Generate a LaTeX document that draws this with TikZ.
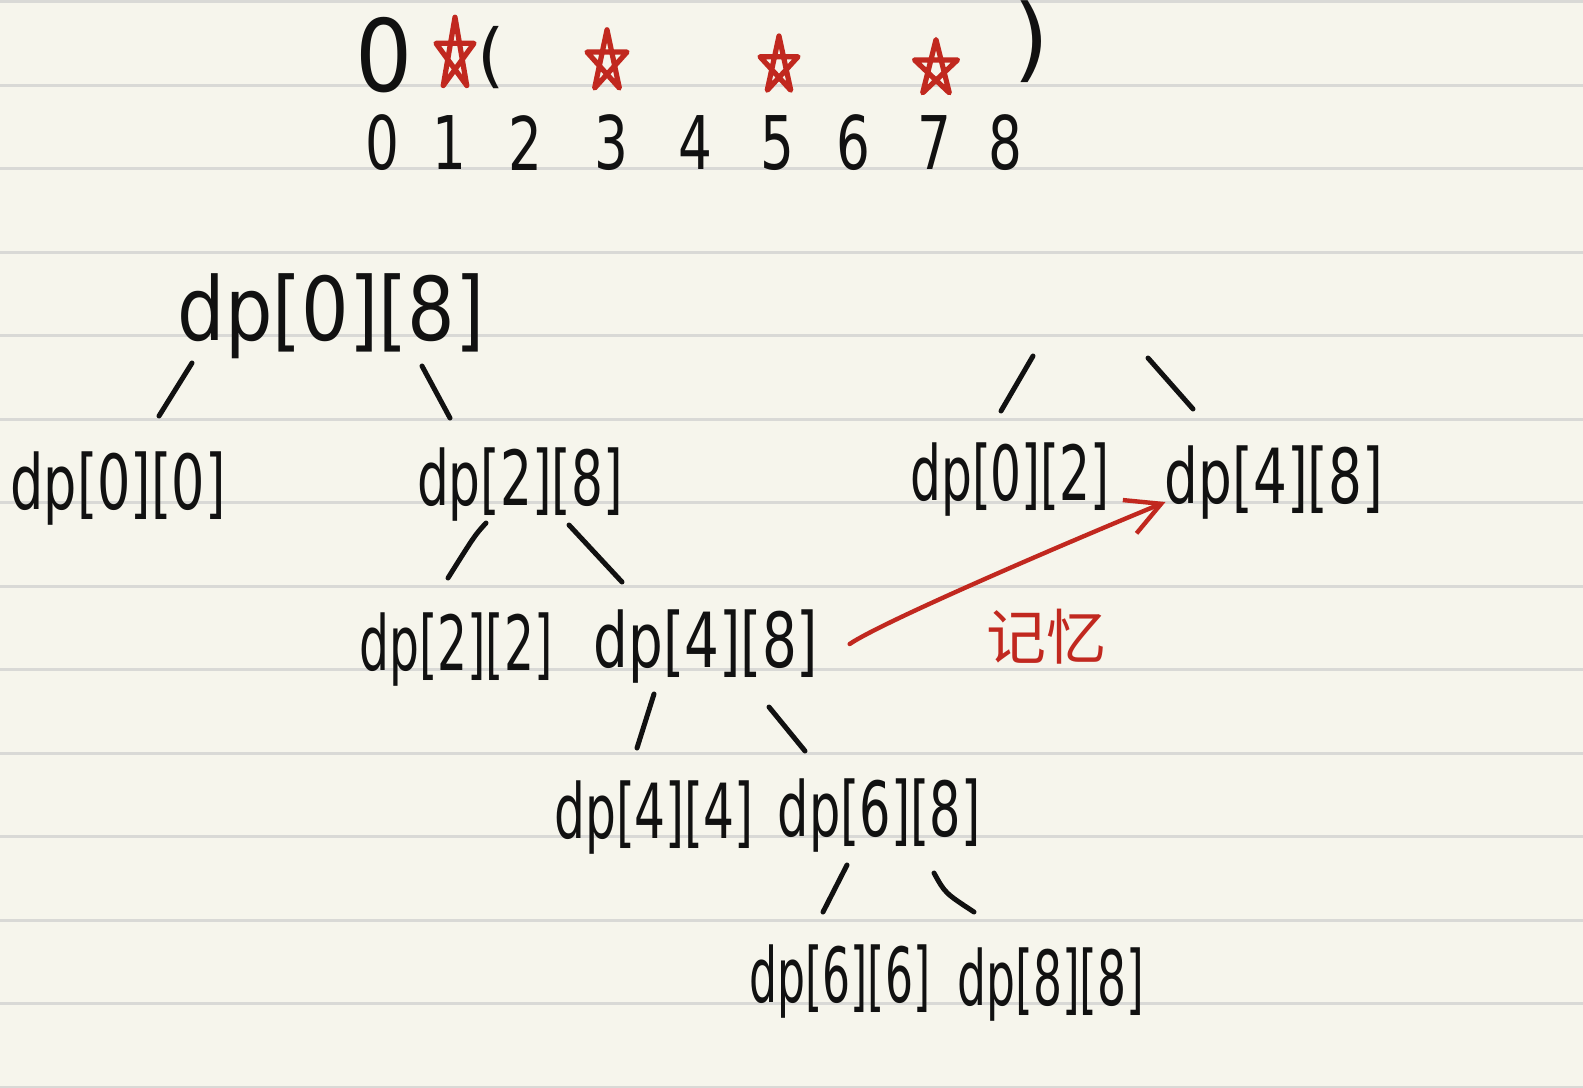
\documentclass[tikz,border=0pt]{standalone}
\usepackage{fontspec}
\setmainfont{DejaVu Sans}
\newfontfamily\cjk{Noto Sans CJK SC}
\usetikzlibrary{arrows.meta}
\definecolor{paper}{HTML}{F6F5EC}
\definecolor{ruleline}{HTML}{D9D9D6}
\definecolor{ink}{HTML}{111111}
\definecolor{redink}{HTML}{C1281F}
\newcommand\hwtext[2][0.68]{\scalebox{#1}[1]{#2}}
\newcommand\hwdigit[1]{\scalebox{0.72}[1]{#1}}
\newcommand\pentastar[4]{%
  \draw[starink, shift={(#1,#2)}, xscale=#3/1.9, yscale=#4/1.8]
    (0,-1) -- (-0.588,0.809) -- (0.951,-0.309) -- (-0.951,-0.309) -- (0.588,0.809) -- cycle;}
\begin{document}
\begin{tikzpicture}[x=0.5pt,y=-0.5pt,
  lbl/.style={inner sep=0pt, text=ink, font=\fontsize{38}{44}\selectfont},
  idx/.style={inner sep=0pt, text=ink, font=\fontsize{37}{42}\selectfont},
  edge/.style={draw=ink, line width=2.5pt, line cap=round},
  starink/.style={draw=redink, line width=2.6pt, line join=round, line cap=round},
  memo/.style={draw=redink, line width=2.2pt, line cap=round,
    -{Straight Barb[length=17pt,width=18pt,line width=2.2pt]}},
  memotext/.style={inner sep=0pt, text=redink, font=\cjk\fontsize{30}{36}\selectfont}
]
\useasboundingbox (0,0) rectangle (1583,1087);
\fill[paper] (0,0) rectangle (1583,1087);
\foreach \k in {0,...,13} {
  \draw[ruleline, line width=1.5pt] (0,1.7+83.5*\k) -- (1583,1.7+83.5*\k);
}

% top string
\node[inner sep=0pt, text=ink, font=\fontsize{50}{56}\selectfont] (zero) at (384,55) {\scalebox{0.9}[1]{0}};
\node[inner sep=0pt, text=ink, font=\fontsize{35}{40}\selectfont] (popen) at (491,58) {(};
\node[inner sep=0pt, text=ink, font=\fontsize{46}{52}\selectfont] (pclose) at (1031,42) {)};
\pentastar{455}{55}{38}{68}
\pentastar{607}{62}{40}{58}
\pentastar{779}{66}{38}{54}
\pentastar{936}{69}{43}{53}

% indices
\foreach \d/\x in {0/382,1/449,2/525,3/611,4/695,5/777,6/853,7/934,8/1005} {
  \node[idx] (i\d) at (\x,143) {\hwdigit{\d}};
}

% tree nodes
\node[inner sep=0pt, text=ink, font=\fontsize{44}{50}\selectfont] (root) at (331,316) {\scalebox{0.85}[1]{dp[0][8]}};
\node[lbl] (d00) at (118,489) {\hwtext[0.69]{dp[0][0]}};
\node[lbl] (d28) at (520,485) {\hwtext[0.66]{dp[2][8]}};
\node[lbl] (d02) at (1010,480) {\hwtext[0.64]{dp[0][2]}};
\node[lbl] (r48) at (1274,483) {\hwtext[0.70]{dp[4][8]}};
\node[lbl] (d22) at (456,650) {\hwtext[0.62]{dp[2][2]}};
\node[lbl] (m48) at (706,647) {\hwtext[0.72]{dp[4][8]}};
\node[lbl] (d44) at (654,818) {\hwtext[0.64]{dp[4][4]}};
\node[lbl] (d68) at (879,816) {\hwtext[0.65]{dp[6][8]}};
\node[lbl] (d66) at (840,982) {\hwtext[0.58]{dp[6][6]}};
\node[lbl] (d88) at (1051,985) {\hwtext[0.60]{dp[8][8]}};
\node[memotext] (memo) at (1046,637) {记忆};

% branch ticks
\coordinate (e1a) at (192,363); \coordinate (e1b) at (159,416);
\coordinate (e2a) at (422,366); \coordinate (e2b) at (450,418);
\coordinate (e3a) at (486,523); \coordinate (e3b) at (448,578);
\coordinate (e4a) at (569,525); \coordinate (e4b) at (622,582);
\coordinate (e5a) at (654,694); \coordinate (e5b) at (637,748);
\coordinate (e6a) at (769,707); \coordinate (e6b) at (805,751);
\coordinate (e7a) at (847,865); \coordinate (e7b) at (823,912);
\coordinate (e8a) at (934,873); \coordinate (e8b) at (974,912);
\coordinate (e9a) at (1033,356); \coordinate (e9b) at (1001,411);
\coordinate (e10a) at (1148,358); \coordinate (e10b) at (1193,409);
\draw[edge] (e1a) -- (e1b);
\draw[edge] (e2a) -- (e2b);
\draw[edge] (e3a) .. controls (475,535) .. (e3b);
\draw[edge] (e4a) -- (e4b);
\draw[edge] (e5a) -- (e5b);
\draw[edge] (e6a) -- (e6b);
\draw[edge] (e7a) -- (e7b);
\draw[edge] (e8a) .. controls (945,893) .. (e8b);
\draw[edge] (e9a) -- (e9b);
\draw[edge] (e10a) -- (e10b);

% memo arrow
\draw[memo] ([shift={(31,-3)}]m48.east) .. controls (885,620) and (1090,533) .. ([shift={(1,19)}]r48.west);
\end{tikzpicture}
\end{document}
